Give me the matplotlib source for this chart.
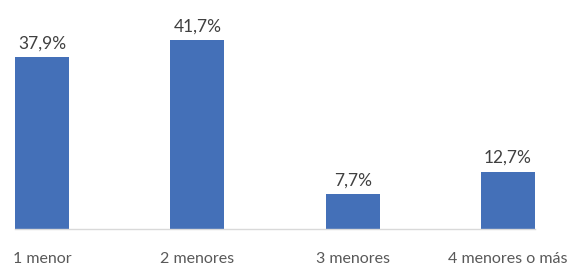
import matplotlib
matplotlib.use("Agg")
import matplotlib.pyplot as plt
import numpy as np

plt.rcParams["font.family"] = ["Lato", "DejaVu Sans"]

CATEGORIES = ["1 menor", "2 menores", "3 menores", "4 menores o más"]
VALUES = [37.9, 41.7, 7.7, 12.7]
LABELS = ["37,9%", "41,7%", "7,7%", "12,7%"]

BAR_COLOR = "#4470B8"
W = 0.347

fig = plt.figure(figsize=(5.81, 2.67), dpi=100)
ax = fig.add_axes([15 / 581, 0.141, 520 / 581, 0.859])

x = np.arange(len(CATEGORIES))
ax.bar(x, VALUES, W, color=BAR_COLOR, zorder=2)

for xi, v, lab in zip(x, VALUES, LABELS):
    ax.annotate(lab, (xi, v), xytext=(0, 4), textcoords="offset points",
                ha="center", va="bottom", fontsize=12.5, color="#404040")

ax.set_xlim(-W / 2, len(CATEGORIES) - 1 + W / 2)
ax.set_ylim(0, 50.5)
ax.set_xticks(x)
ax.set_xticklabels(CATEGORIES, fontsize=11.5, color="#595959")
ax.tick_params(axis="x", length=0, pad=16)
ax.set_yticks([])
for s in ["top", "right", "left"]:
    ax.spines[s].set_visible(False)
ax.spines["bottom"].set_color("#D9D9D9")
ax.spines["bottom"].set_linewidth(1)

fig.savefig("out.png", dpi=100)
